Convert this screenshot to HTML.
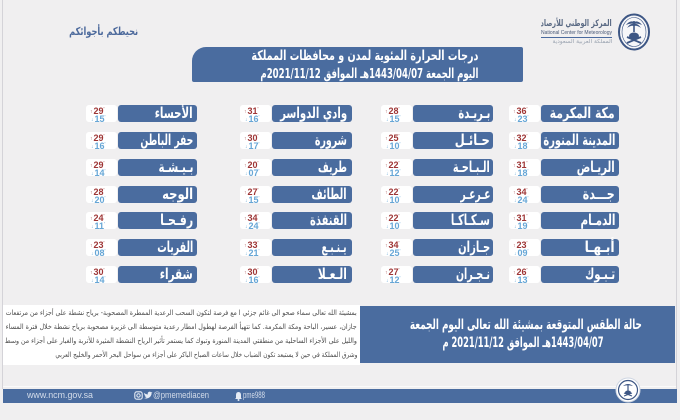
<!DOCTYPE html>
<html><head><meta charset="utf-8">
<style>
html,body{margin:0;padding:0;}
body{width:680px;height:420px;position:relative;overflow:hidden;background:#f0eff0;font-family:"DejaVu Sans","Liberation Sans",sans-serif;}
.a{position:absolute;}
.fit{position:absolute;direction:rtl;text-align:right;white-space:nowrap;overflow:visible;}
.fit>span{display:inline-block;transform-origin:100% 50%;}
.lbl{position:absolute;background:#4a6c9f;border-radius:3px;height:17px;}
.tmp{position:absolute;background:#fff;border-radius:3px;height:17px;width:31px;}
.ltxt{color:#fff;font-weight:bold;font-size:15px;line-height:17px;height:17px;}
.hi{position:absolute;font-family:"Liberation Sans",sans-serif;font-weight:bold;font-size:9px;color:#9e3535;line-height:9px;}
.lo{position:absolute;font-family:"Liberation Sans",sans-serif;font-weight:bold;font-size:9px;color:#66a6d6;line-height:9px;}
.ar{font-size:5px;vertical-align:1px;margin-right:1px;}
.dg{font-size:5px;vertical-align:3px;font-weight:normal;}
</style></head><body>

<!-- frame lines -->
<div class="a" style="left:2px;top:0;width:1px;height:389px;background:#d4d3d8"></div>
<div class="a" style="left:676px;top:0;width:1px;height:389px;background:#d4d3d8"></div>
<div class="a" style="left:3px;top:386px;width:673px;height:1px;background:#fafafa"></div>

<!-- top logo -->
<svg class="a" style="left:616px;top:12px" width="36" height="40" viewBox="0 0 36 40">
  <ellipse cx="18" cy="20" rx="15" ry="17.5" fill="#f7f7f9" stroke="#3d5684" stroke-width="2"/>
  <ellipse cx="18" cy="20" rx="12" ry="14.5" fill="none" stroke="#3d5684" stroke-width="0.6"/>
  <path d="M18 9 L18 20" stroke="#3d5684" stroke-width="1.6"/>
  <path d="M10 13 Q14 8 18 10 Q22 8 26 13 Q22 11 18 12 Q14 11 10 13Z" fill="#3d5684"/>
  <path d="M11 16 Q14 11 18 12 Q22 11 25 16 Q21 13 18 14 Q15 13 11 16Z" fill="#3d5684"/>
  <ellipse cx="18" cy="24" rx="5" ry="3.5" fill="#3d5684"/>
  <path d="M11 31 L25 25 M11 25 L25 31" stroke="#3d5684" stroke-width="1.8"/>
</svg>
<div class="fit" style="left:541px;top:18px;width:71px;height:12px;font-size:9px;line-height:12px;color:#5a6a84;font-weight:bold"><span>المركز الوطني للأرصاد</span></div>
<div class="fit" style="left:541px;top:30px;width:71px;height:6px;font-size:5px;line-height:6px;color:#4a5a78;font-family:'Liberation Sans',sans-serif;direction:ltr;text-align:left"><span style="transform-origin:0 50%">National Center for Meteorology</span></div>
<div class="a" style="left:541px;top:37px;width:71px;height:1px;background:#4a6a9e"></div>
<div class="fit" style="left:552px;top:39px;width:60px;height:7px;font-size:5.5px;line-height:7px;color:#9aa3b0"><span>المملكة العربية السعودية</span></div>

<div class="fit" style="left:69px;top:25px;width:69px;height:14px;font-size:11px;line-height:14px;color:#4d6a9c;font-weight:bold"><span>نحيطكم بأجوائكم</span></div>

<!-- header box -->
<div class="a" style="left:192px;top:47px;width:331px;height:35px;background:#4a6c9f;border-radius:14px 2px 2px 2px"></div>
<div class="fit" style="left:251px;top:47px;width:227px;height:18px;font-size:13.5px;line-height:18px;color:#fff;font-weight:bold"><span>درجات الحرارة المئوية لمدن و محافظات المملكة</span></div>
<div class="fit" style="left:260px;top:65px;width:218px;height:18px;font-size:13.5px;line-height:18px;color:#fff;font-weight:bold"><span>اليوم الجمعة 1443/04/07هـ الموافق 2021/11/12م</span></div>

<div id="grid"></div>

<!-- bottom -->
<div class="a" style="left:3px;top:305px;width:357px;height:60px;background:#fff"></div>
<div class="a" style="left:360px;top:306px;width:315px;height:57px;background:#4a6c9f"></div>
<div class="fit" style="left:410px;top:316px;width:232px;height:18px;font-size:14px;line-height:18px;color:#fff;font-weight:bold"><span>حالة الطقس المتوقعة بمشيئة الله تعالى اليوم الجمعة</span></div>
<div class="fit" style="left:442px;top:334px;width:161px;height:18px;font-size:14px;line-height:18px;color:#fff;font-weight:bold"><span>1443/04/07هـ الموافق 2021/11/12 م</span></div>

<div class="fit" style="left:6px;top:308px;width:351px;height:10px;font-size:7px;line-height:10px;color:#4a4a4a"><span>بمشيئة الله تعالى سماء صحو الى غائم جزئي ا مع فرصة لتكون السحب الرعدية الممطرة المصحوبة- برياح نشطة على أجزاء من مرتفعات</span></div>
<div class="fit" style="left:6px;top:322px;width:351px;height:10px;font-size:7px;line-height:10px;color:#4a4a4a"><span>جازان، عسير، الباحة ومكة المكرمة. كما تتهيأ الفرصة لهطول امطار رعدية متوسطة الى غزيرة مصحوبة برياح نشطة خلال فترة المساء</span></div>
<div class="fit" style="left:5px;top:336px;width:352px;height:10px;font-size:7px;line-height:10px;color:#4a4a4a"><span>والليل على الأجزاء الساحلية من منطقتي المدينة المنورة وتبوك كما يستمر تأثير الرياح النشطة المثيرة للأتربة والغبار على أجزاء من وسط</span></div>
<div class="fit" style="left:55px;top:350px;width:302px;height:10px;font-size:7px;line-height:10px;color:#4a4a4a"><span>وشرق المملكة في حين لا يستبعد تكون الضباب خلال ساعات الصباح الباكر على أجزاء من سواحل البحر الأحمر والخليج العربي</span></div>

<!-- footer -->
<div class="a" style="left:3px;top:389px;width:674px;height:14px;background:#4a6c9f"></div>
<div class="fit" style="left:27px;top:390px;width:66px;height:12px;font-size:9.5px;line-height:12px;color:#d3dcea;font-family:'Liberation Sans',sans-serif;direction:ltr;text-align:left"><span style="transform-origin:0 50%">www.ncm.gov.sa</span></div>
<svg class="a" style="left:134px;top:391px" width="19" height="10" viewBox="0 0 19 10">
  <rect x="0.8" y="0.8" width="7.4" height="7.4" rx="2" fill="none" stroke="#e6ecf5" stroke-width="1.1"/>
  <circle cx="4.5" cy="4.5" r="1.7" fill="none" stroke="#e6ecf5" stroke-width="1"/>
  <path d="M10 7 Q13 8.5 16 6 Q18 3.5 17.5 2 L18.5 1 L17 1.2 Q15.5 0 14 1.5 Q13.5 2.5 13.8 3.5 Q11.5 3.4 10.2 1.8 Q9.8 3.8 11.5 4.6 L10.6 4.5 Q11 6 12.5 6.3 Q11.5 7.1 10 7Z" fill="#e6ecf5"/>
</svg>
<div class="fit" style="left:153px;top:390px;width:56px;height:12px;font-size:9.5px;line-height:12px;color:#d3dcea;font-family:'Liberation Sans',sans-serif;direction:ltr;text-align:left"><span style="transform-origin:0 50%">@pmemediacen</span></div>
<svg class="a" style="left:235px;top:391px" width="7" height="10" viewBox="0 0 7 10">
  <path d="M3.5 1 Q6 1 6 4 L6 7 L7 8 L0 8 L1 7 L1 4 Q1 1 3.5 1Z" fill="#e6ecf5"/>
  <circle cx="3.5" cy="9" r="1" fill="#e6ecf5"/>
</svg>
<div class="fit" style="left:243px;top:390px;width:22px;height:12px;font-size:9.5px;line-height:12px;color:#d3dcea;font-family:'Liberation Sans',sans-serif;direction:ltr;text-align:left"><span style="transform-origin:0 50%">pme988</span></div>
<svg class="a" style="left:615px;top:377px" width="26" height="26" viewBox="0 0 26 26">
  <circle cx="13" cy="13" r="12" fill="#fff" stroke="#cfd6e2" stroke-width="1"/>
  <circle cx="13" cy="13" r="9.5" fill="none" stroke="#3d5684" stroke-width="1.2"/>
  <path d="M8 9 Q13 5 18 9 Q13 7.5 8 9Z" fill="#3d5684"/>
  <path d="M13 8 L13 14" stroke="#3d5684" stroke-width="1.2"/>
  <ellipse cx="13" cy="15.5" rx="3" ry="2" fill="#3d5684"/>
  <path d="M9 19 L17 16 M9 16 L17 19" stroke="#3d5684" stroke-width="1.1"/>
</svg>

<script>
(function(){
  var rows=[105,132,159,186,212,239,266];
  var cols=[
    {tl:509,bl:541,bw:78,tr:615,d:[["مكة المكرمة",36,23,65],["المدينة المنورة",32,18,72],["الريـاض",31,18,38],["جـــدة",34,24,32],["الدمـام",31,19,35],["أبـهـا","23","09",30],["تـبـوك",26,13,30]]},
    {tl:381,bl:413,bw:80,tr:490,d:[["بـريـدة",28,15,32],["حـائـل",25,10,35],["الـبـاحـة",22,12,37],["عـرعـر",22,10,30],["سـكـاكـا",22,10,39],["جـازان",34,25,32],["نـجـران",27,12,34]]},
    {tl:240,bl:272,bw:80,tr:347,d:[["وادي الدواسر",31,16,67],["شرورة",30,17,32],["طريف",20,"07",29],["الطائف",27,15,35],["القنفذة",34,24,37],["يـنـبـع",33,21,25],["الـعـلا",30,16,29]]},
    {tl:86,bl:118,bw:79,tr:193,d:[["الأحساء",29,15,38],["حفر الباطن",29,16,53],["بـيـشـة",29,14,35],["الوجه",28,20,31],["رفـحـا",24,11,33],["القريات",23,"08",36],["شقراء",30,14,33]]}
  ];
  var h="";
  cols.forEach(function(c){
    c.d.forEach(function(r,i){
      var t=rows[i];
      h+='<div class="tmp" style="left:'+c.tl+'px;top:'+t+'px"></div>';
      h+='<div class="hi" style="left:'+(c.tl+4)+'px;top:'+(t+1)+'px"><span class="ar">↑</span>'+r[1]+'<span class="dg">\'</span></div>';
      h+='<div class="lo" style="left:'+(c.tl+5)+'px;top:'+(t+8.5)+'px"><span class="ar">↓</span>'+r[2]+'<span class="dg">\'</span></div>';
      h+='<div class="lbl" style="left:'+c.bl+'px;top:'+t+'px;width:'+c.bw+'px"></div>';
      h+='<div class="fit ltxt" style="left:'+(c.tr-r[3])+'px;top:'+t+'px;width:'+r[3]+'px"><span>'+r[0]+'</span></div>';
    });
  });
  document.getElementById('grid').innerHTML=h;
  var els=document.querySelectorAll('.fit');
  for(var k=0;k<els.length;k++){
    var el=els[k],sp=el.firstElementChild;
    var w=el.clientWidth,nw=sp.getBoundingClientRect().width;
    if(nw>0){sp.style.transform='scaleX('+(w/nw)+')';}
  }
})();
</script>
</body></html>
